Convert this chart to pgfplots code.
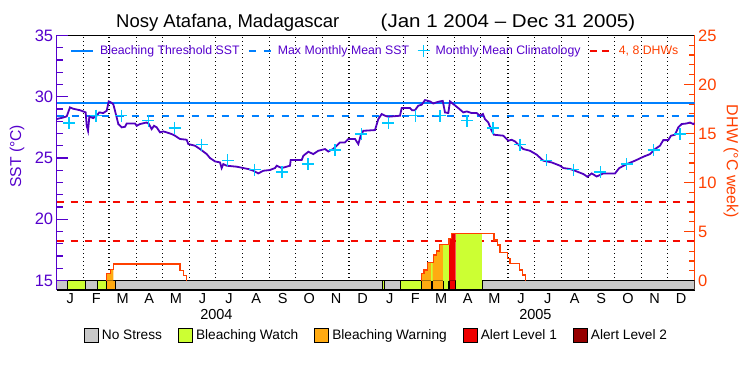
\documentclass[border=0pt]{standalone}
\usepackage{pgfplots}
\pgfplotsset{compat=1.18}
\usepackage{fontspec}
\setmainfont{Liberation Sans}
\definecolor{sstcol}{RGB}{85,0,204}
\definecolor{curvecol}{RGB}{80,0,190}
\definecolor{thrcol}{RGB}{0,128,255}
\definecolor{climcol}{RGB}{0,200,255}
\definecolor{dhwcol}{RGB}{255,64,0}
\definecolor{dhwdash}{RGB}{245,10,0}
\definecolor{stnone}{RGB}{200,200,200}
\definecolor{stwatch}{RGB}{204,255,51}
\definecolor{stwarn}{RGB}{255,170,17}
\definecolor{stalerta}{RGB}{238,0,0}
\definecolor{stalertb}{RGB}{150,0,0}
\newcommand{\fs}[1]{\fontsize{#1}{#1}\selectfont}
\pgfplotsset{
 common/.style={scale only axis, width=638pt, height=254.5pt, at={(56.7pt,85pt)}, anchor=south west,
   xmin=0, xmax=731, /pgf/number format/assume math mode=true, tick align=inside,
   major tick length=11pt, minor tick length=6pt},
}
\begin{document}
\begin{tikzpicture}[x=1pt,y=1pt]
\useasboundingbox (0,0) rectangle (750,375);
\node[font=\fs{18.5}, anchor=base] at (227.8,347.5) {Nosy Atafana, Madagascar};
\node[font=\fs{18.5}, anchor=base] at (508,347.5) {\scalebox{1.11}[1]{(Jan 1 2004 \textendash{} Dec 31 2005)}};
% ---------------- DHW axis (drawn first) ----------------
\begin{axis}[common,
  ymin=-0.969, ymax=25,
  axis y line*=right, axis x line*=box,
  x axis line style={black, line width=1.2pt},
  y axis line style={dhwcol, line width=1.2pt},
  ytick={0,5,10,15,20,25}, minor y tick num=4,
  ytick style={dhwcol, line width=1.2pt},
  yticklabel style={dhwcol, font=\fs{16.5}},
  ylabel={DHW (°C week)},
  ylabel style={dhwcol, font=\fs{16}, at={(axis description cs:1.0569,0.505)}, anchor=center, rotate=180},
  xtick={0,31,60,91,121,152,182,213,244,274,305,335,366,397,425,456,486,517,547,578,609,639,670,700,731},
  xticklabels={}, xtick style={draw=none},
  xmajorgrids, major x grid style={black, line width=1.2pt, dash pattern=on 1.2pt off 2.8pt},
  extra x ticks={15.5,45.5,75.5,106,136.5,167,197.5,228.5,259,289.5,320,350.5,381.5,411,440.5,471,501.5,532,562.5,593.5,624,654.5,685,715.5},
  extra x tick labels={J,F,M,A,M,J,J,A,S,O,N,D,J,F,M,A,M,J,J,A,S,O,N,D},
  extra x tick style={grid=none, major tick length=0pt, tick label style={black, font=\fs{14.5}}},
  legend style={at={(axis description cs:0.502,-0.177)}, anchor=center, draw=none, fill=none,
    legend columns=5, font=\fs{13.7}, /tikz/every even column/.append style={column sep=13pt},
    nodes={inner xsep=3pt}},
  legend image code/.code={\draw[#1] (0pt,-7pt) rectangle (14pt,7pt);},
]
% 4 and 8 DHW reference lines
\addplot[dhwdash, line width=1.8pt, dash pattern=on 7pt off 7pt, forget plot] coordinates {(0,4) (731,4)};
\addplot[dhwdash, line width=1.8pt, dash pattern=on 7pt off 7pt, forget plot] coordinates {(0,8) (731,8)};
% stress bar
\addplot[fill=stnone, draw=black, line width=1.2pt, forget plot] coordinates {(0,-0.969) (0,0) (731,0) (731,-0.969)} --cycle;
\addplot[fill=stwatch, draw=black, line width=1.2pt, forget plot] coordinates {(12.1,-0.969) (12.1,0) (32.8,0) (32.8,-0.969)} --cycle;
\addplot[fill=stwatch, draw=black, line width=1.2pt, forget plot] coordinates {(47.0,-0.969) (47.0,0) (56.8,0) (56.8,-0.969)} --cycle;
\addplot[fill=stwarn, draw=black, line width=1.2pt, forget plot] coordinates {(56.8,-0.969) (56.8,0) (67.1,0) (67.1,-0.969)} --cycle;
\addplot[fill=stwatch, draw=black, line width=1.2pt, forget plot] coordinates {(373.0,-0.969) (373.0,0) (375.5,0) (375.5,-0.969)} --cycle;
\addplot[fill=stwatch, draw=black, line width=1.2pt, forget plot] coordinates {(394.1,-0.969) (394.1,0) (417.7,0) (417.7,-0.969)} --cycle;
\addplot[fill=stwarn, draw=black, line width=1.2pt, forget plot] coordinates {(417.7,-0.969) (417.7,0) (429.2,0) (429.2,-0.969)} --cycle;
\addplot[fill=stwatch, draw=black, line width=1.2pt, forget plot] coordinates {(429.2,-0.969) (429.2,0) (430.8,0) (430.8,-0.969)} --cycle;
\addplot[fill=stwarn, draw=black, line width=1.2pt, forget plot] coordinates {(430.8,-0.969) (430.8,0) (442.9,0) (442.9,-0.969)} --cycle;
\addplot[fill=stwatch, draw=black, line width=1.2pt, forget plot] coordinates {(442.9,-0.969) (442.9,0) (449.5,0) (449.5,-0.969)} --cycle;
\addplot[fill=stalerta, draw=black, line width=1.2pt, forget plot] coordinates {(449.5,-0.969) (449.5,0) (457.1,0) (457.1,-0.969)} --cycle;
\addplot[fill=stwatch, draw=black, line width=1.2pt, forget plot] coordinates {(457.1,-0.969) (457.1,0) (487.6,0) (487.6,-0.969)} --cycle;
% stress-coloured area under DHW
\addplot[fill=stwarn, draw=none, forget plot] coordinates {(56.8,0) (56.8,0.73) (61.4,0.73) (61.4,1.14) (64.9,1.14) (64.9,0)} --cycle;
\addplot[fill=stwarn, draw=none, forget plot] coordinates {(418.2,0) (418.2,0.73) (420.8,0.73) (420.8,1.07) (424.6,1.07) (424.6,1.86) (429.2,1.86) (429.2,0)} --cycle;
\addplot[fill=stwatch, draw=none, forget plot] coordinates {(429.2,0) (429.2,1.86) (430.8,1.86) (430.8,0)} --cycle;
\addplot[fill=stwarn, draw=none, forget plot] coordinates {(430.8,0) (430.8,1.86) (431.5,1.86) (431.5,2.60) (435.3,2.60) (435.3,3.01) (438.4,3.01) (438.4,3.69) (442.9,3.69) (442.9,0)} --cycle;
\addplot[fill=stwatch, draw=none, forget plot] coordinates {(442.9,0) (442.9,3.69) (449.5,3.69) (449.5,0)} --cycle;
\addplot[fill=stalerta, draw=none, forget plot] coordinates {(449.5,0) (449.5,4.30) (452.5,4.30) (452.5,4.82) (457.1,4.82) (457.1,0)} --cycle;
\addplot[fill=stwatch, draw=none, forget plot] coordinates {(457.1,0) (457.1,4.82) (487.6,4.82) (487.6,0)} --cycle;
% DHW line
\addplot[const plot, dhwcol, line width=1.4pt, forget plot] coordinates {(56.8,0) (56.8,0.73) (61.4,1.14) (64.9,1.68) (141.3,1.0) (145.1,0.49) (148.9,0)};
\addplot[const plot, dhwcol, line width=1.4pt, forget plot] coordinates {(418.2,0) (418.2,0.73) (420.8,1.07) (424.6,1.86) (431.5,2.60) (435.3,3.01) (438.4,3.69) (449.5,4.30) (452.5,4.82) (501.0,4.13) (504.9,3.62) (507.9,2.88) (516.3,2.27) (519.4,1.75) (530.1,1.07) (533.9,0.56) (536.9,0)};
% bottom legend
\addlegendimage{fill=stnone, draw=black, line width=1pt}
\addlegendentry{No Stress}
\addlegendimage{fill=stwatch, draw=black, line width=1pt}
\addlegendentry{Bleaching Watch}
\addlegendimage{fill=stwarn, draw=black, line width=1pt}
\addlegendentry{Bleaching Warning}
\addlegendimage{fill=stalerta, draw=black, line width=1pt}
\addlegendentry{Alert Level 1}
\addlegendimage{fill=stalertb, draw=black, line width=1pt}
\addlegendentry{Alert Level 2}
\end{axis}
% ---------------- SST axis ----------------
\begin{axis}[common,
  ymin=14.224, ymax=35,
  axis y line*=left, axis x line*=bottom,
  x axis line style={draw=none},
  y axis line style={sstcol, line width=1.2pt},
  ytick={15,20,25,30,35}, minor y tick num=4,
  ytick style={sstcol, line width=1.2pt},
  yticklabel style={sstcol, font=\fs{16.5}},
  ylabel={SST (°C)},
  ylabel style={sstcol, font=\fs{15.7}, at={(axis description cs:-0.0622,0.525)}, anchor=center},
  xtick={183,548.5}, xticklabels={2004,2005}, xtick style={draw=none},
  xticklabel style={black, font=\fs{14.5}, yshift=-16pt},
  legend style={at={(axis description cs:0.016,0.94)}, anchor=west, draw=none, fill=none,
    legend columns=4, font=\fs{12.3},
    /tikz/every odd column/.append style={column sep=3pt},
    /tikz/every even column/.append style={column sep=5.5pt},
    nodes={inner xsep=3pt}},
  legend cell align=left,
  legend image code/.code={\draw[mark repeat=2,mark phase=2,#1] plot coordinates {(0pt,0pt) (11pt,0pt) (22pt,0pt)};},
]
\addplot[color=thrcol, line width=2pt] coordinates {(0,29.45) (731,29.45)};
\addlegendentry{\textcolor{sstcol}{Bleaching Threshold SST}}
\addplot[color=thrcol, line width=1.8pt, dash pattern=on 7pt off 8pt] coordinates {(0,28.45) (731,28.45)};
\addlegendentry{\textcolor{sstcol}{Max Monthly Mean SST}}
\addplot[curvecol, line width=1.8pt, forget plot] coordinates {
(0,28.18) (7.6,28.31) (11.5,28.40) (15.2,29.13) (19.0,29.02) (26.7,28.90) (30.5,28.80) (33.2,28.72) (34.4,27.63) (35.9,27.22) (37.4,28.37) (41.9,28.26) (45.8,28.45) (48.8,28.72) (53.4,28.67) (57.3,28.86) (59.6,29.62) (61.1,29.58) (64.8,29.40) (66.8,28.86) (70.6,27.77) (74.5,27.50) (78.3,27.55) (80.2,27.82) (89.7,27.82) (91.7,27.63) (95.4,27.77) (103.1,27.90) (105.7,27.77) (108.8,27.36) (111.5,27.63) (114.6,27.50) (118.4,27.09) (122.1,27.17) (126.0,27.09) (131.8,26.95) (135.5,26.82) (141.3,26.55) (148.9,26.49) (150.8,26.14) (158.5,26.00) (164.2,25.73) (171.9,25.32) (175.6,25.00) (181.4,24.72) (187.1,24.64) (189.0,24.18) (190.9,24.50) (194.8,24.37) (206.2,24.29) (213.8,24.18) (219.5,24.10) (225.3,23.96) (231.0,23.74) (236.7,23.96) (244.4,24.02) (250.1,24.18) (252.1,24.37) (257.8,24.18) (267.3,24.37) (268.1,24.83) (280.7,24.83) (282.6,25.18) (288.3,25.51) (294.0,25.32) (299.7,25.59) (307.4,25.73) (311.2,25.53) (316.6,25.73) (320.8,26.00) (324.6,26.27) (330.3,26.27) (334.1,26.55) (341.8,26.55) (345.6,26.14) (348.3,26.82) (351.3,27.22) (364.7,27.28) (368.5,28.18) (372.4,28.59) (376.2,28.45) (379.9,28.37) (393.3,28.45) (395.3,29.08) (404.8,29.08) (407.1,28.90) (410.5,28.90) (414.3,29.27) (418.2,29.35) (422.0,29.73) (427.7,29.62) (431.5,29.45) (435.4,29.55) (439.2,29.62) (442.3,29.66) (444.9,28.72) (448.7,28.67) (450.6,29.62) (454.4,29.40) (460.1,29.08) (465.9,28.72) (469.8,28.80) (475.5,28.67) (481.2,28.67) (485.0,28.45) (488.4,28.59) (490.7,28.18) (494.5,27.90) (498.4,27.22) (501.0,26.90) (511.7,26.82) (517.4,26.41) (521.3,26.49) (525.1,26.35) (528.9,26.08) (534.6,25.73) (542.3,25.59) (550.0,25.27) (557.5,24.78) (567.1,24.64) (576.7,24.37) (580.5,24.18) (588.2,24.10) (593.8,23.96) (603.4,23.69) (608.0,23.47) (613.0,23.74) (618.7,23.49) (626.3,23.74) (639.7,23.74) (644.6,24.18) (653.1,24.50) (662.6,24.78) (672.1,25.10) (679.8,25.32) (685.5,25.73) (691.2,26.00) (695.0,26.46) (700.7,26.46) (703.8,26.82) (708.4,26.90) (712.2,27.50) (716.1,27.77) (721.8,27.82) (725.6,27.90) (729.5,27.77) (731,27.85)};
\addplot[only marks, mark=+, mark size=6pt, climcol, line width=1.3pt] coordinates {
(14,27.85) (45,28.45) (74,28.45) (105,28.05) (135,27.45) (166,26.10) (196,24.80) (227,24.05) (258,23.85) (288,24.50) (319,25.65) (349,26.95)
(380,27.85) (411,28.45) (439,28.45) (470,28.05) (500,27.45) (531,26.10) (561,24.80) (592,24.05) (623,23.85) (653,24.50) (684,25.65) (714,26.95)};
\addlegendentry{\textcolor{sstcol}{Monthly Mean Climatology}}
\addlegendimage{dhwdash, line width=1.8pt, dash pattern=on 7pt off 5pt}
\addlegendentry{\textcolor{dhwcol}{4, 8 DHWs}}
\end{axis}
\end{tikzpicture}
\end{document}
